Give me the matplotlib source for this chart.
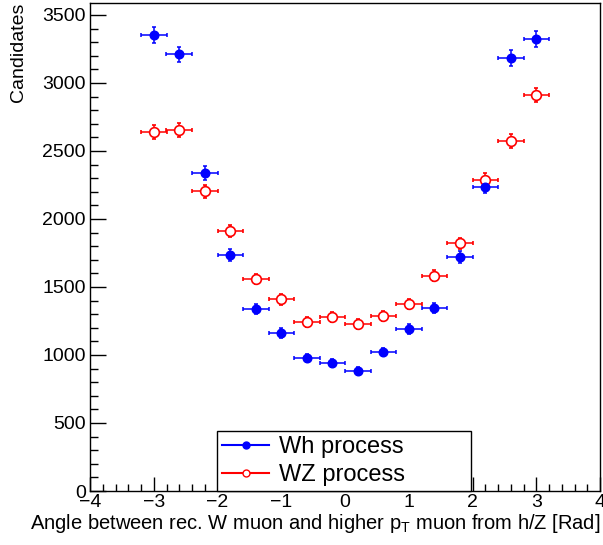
import numpy as np
import matplotlib
matplotlib.use("Agg")
import matplotlib.pyplot as plt
from matplotlib.ticker import MultipleLocator
from matplotlib.lines import Line2D

plt.rcParams['font.family'] = ['Liberation Sans', 'DejaVu Sans']
plt.rcParams['mathtext.fontset'] = 'custom'
plt.rcParams['mathtext.rm'] = 'Liberation Sans'
plt.rcParams['mathtext.default'] = 'regular'

# bin centres (rad) and half bin width
angle = [-3.0, -2.6, -2.2, -1.8, -1.4, -1.0, -0.6, -0.2,
         0.2, 0.6, 1.0, 1.4, 1.8, 2.2, 2.6, 3.0]
half_width = 0.2

# candidates per bin
wh_counts = [3355, 3210, 2338, 1735, 1338, 1162, 978, 942,
             883, 1022, 1191, 1346, 1721, 2236, 3184, 3324]
wz_counts = [2638, 2652, 2204, 1910, 1559, 1408, 1243, 1277,
             1228, 1287, 1376, 1583, 1821, 2287, 2574, 2912]

fig = plt.figure(figsize=(6.03, 5.45), dpi=100)
ax = fig.add_axes([90/603, 54/545, 510/603, 488/545])

ax.errorbar(angle, wz_counts, yerr=np.sqrt(wz_counts), xerr=half_width,
            fmt='o', color='red', mfc='white', mec='red', ms=7, mew=1.2,
            elinewidth=1.1, capsize=1.6, capthick=1.1)
ax.errorbar(angle, wh_counts, yerr=np.sqrt(wh_counts), xerr=half_width,
            fmt='o', color='blue', ms=6.2,
            elinewidth=1.1, capsize=1.6, capthick=1.1)

ax.set_xlim(-4, 4)
ax.set_ylim(0, 3588)
ax.xaxis.set_major_locator(MultipleLocator(1))
ax.xaxis.set_minor_locator(MultipleLocator(0.2))
ax.yaxis.set_major_locator(MultipleLocator(500))
ax.yaxis.set_minor_locator(MultipleLocator(100))
ax.tick_params(which='both', direction='in', top=False, right=False,
               labelsize=14, width=1)
ax.tick_params(axis='y', which='major', length=11.5, pad=3)
ax.tick_params(axis='y', which='minor', length=5.8)
ax.tick_params(axis='x', which='major', length=10, pad=2)
ax.tick_params(axis='x', which='minor', length=5)
for s in ax.spines.values():
    s.set_linewidth(1)

fig.text(18.5/603, 1 - 3/545, 'Candidates', rotation=90, ha='center',
         va='top', fontsize=14)
fig.text(600/603, 16/545,
         r'Angle between rec. W muon and higher p$_{T}$ muon from h/Z [Rad]',
         ha='right', va='baseline', fontsize=14.5)

handles = [Line2D([], [], color='blue', marker='o', ms=5),
           Line2D([], [], color='red', marker='o', ms=5, mfc='white')]
leg = ax.legend(handles, ['Wh process', 'WZ process'],
                loc='lower left',
                bbox_to_anchor=((217 - 90)/510, 0, (471 - 217)/510, 60/488),
                mode='expand', borderaxespad=0, fontsize=17,
                handlelength=2.0, handletextpad=0.4, labelspacing=0.25,
                borderpad=0.22, fancybox=False, framealpha=1,
                edgecolor='black')
leg.get_frame().set_linewidth(1)

fig.savefig('out.png', dpi=100)
